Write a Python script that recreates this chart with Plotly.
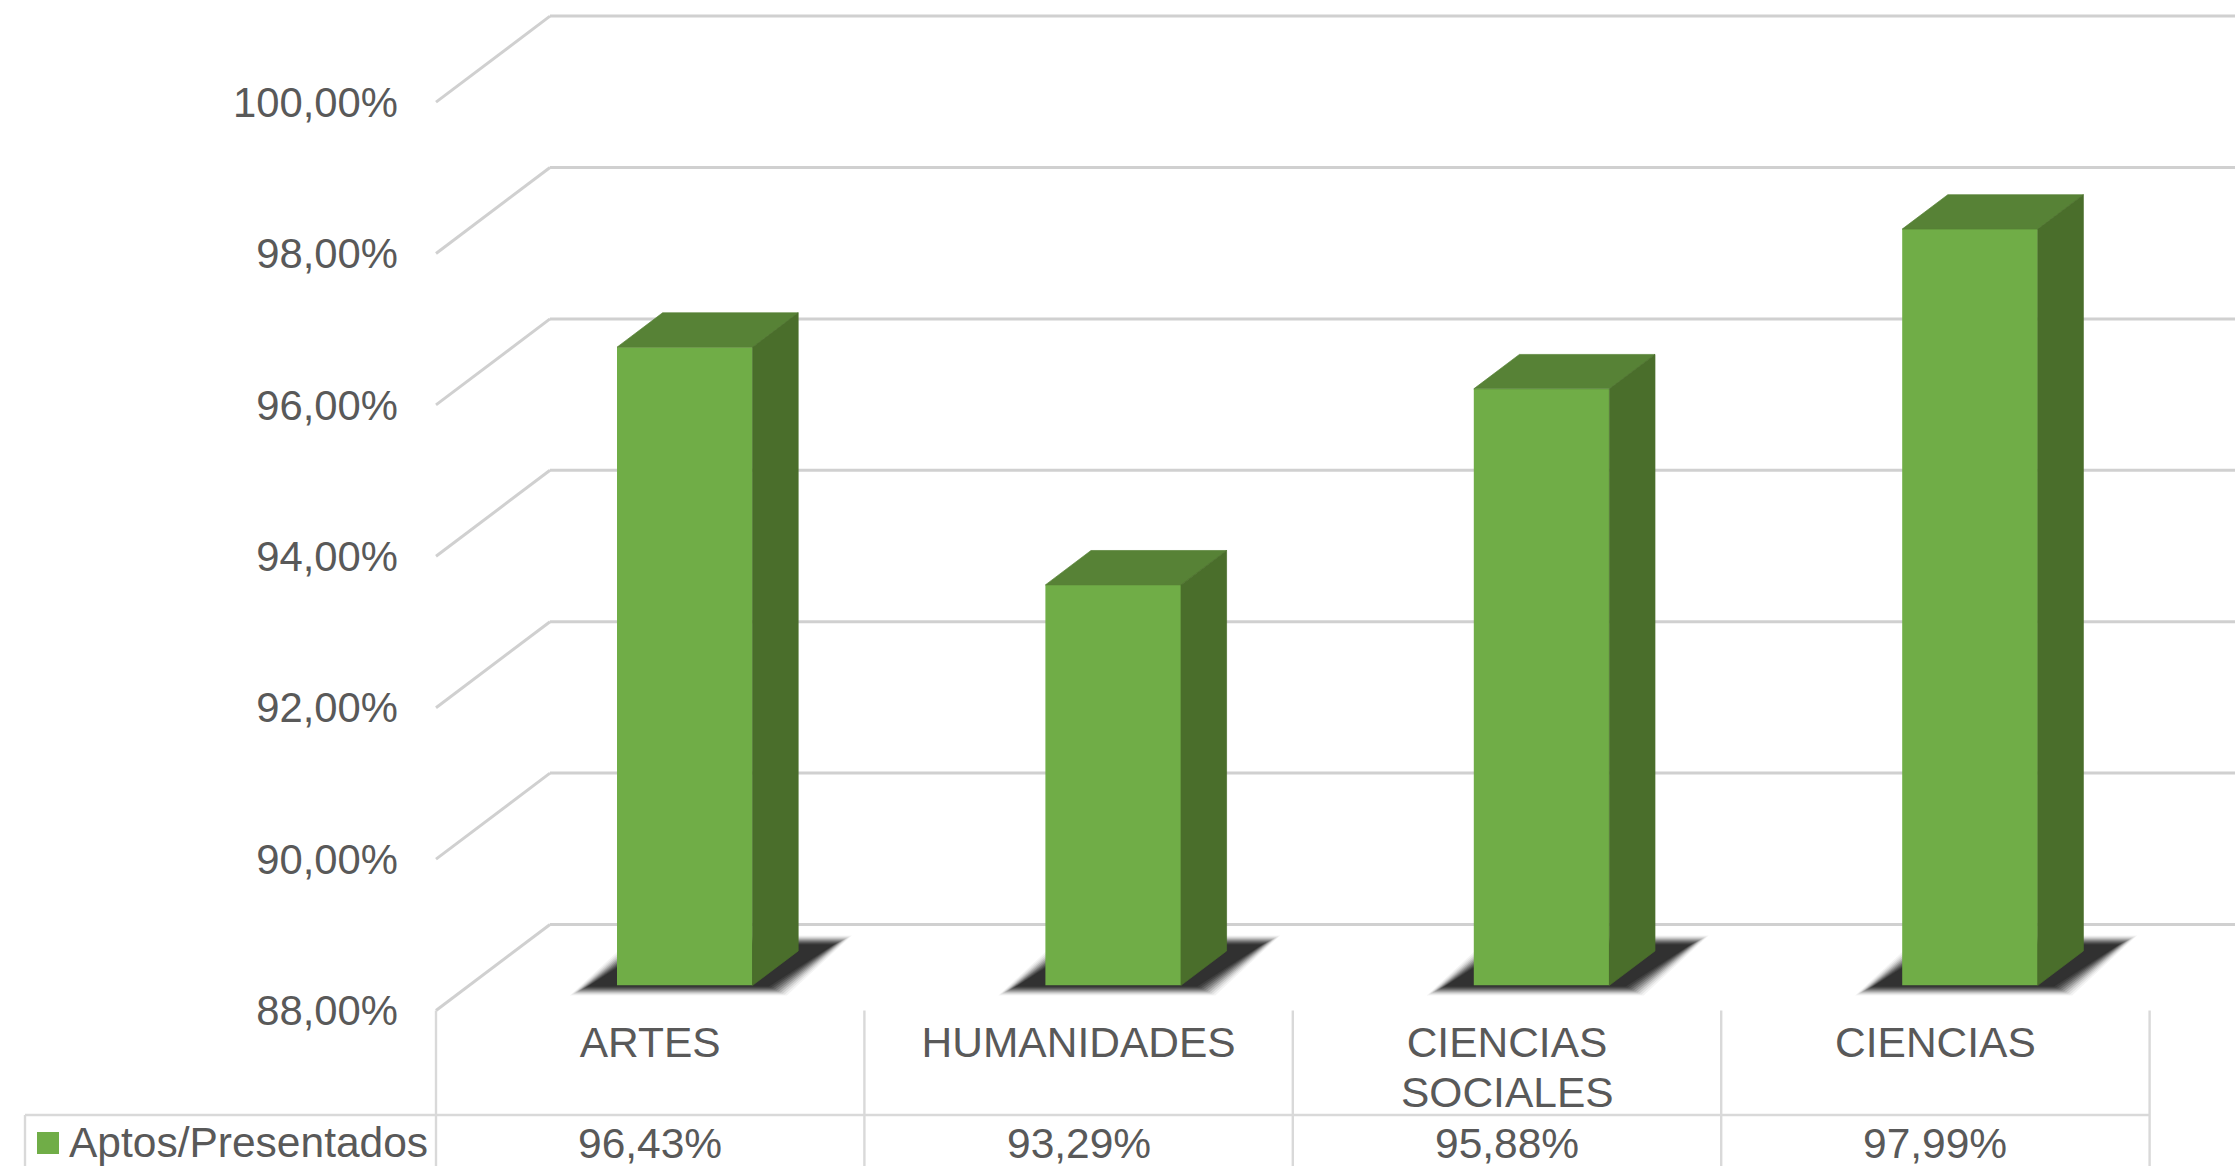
import plotly.graph_objects as go

# ---- data ----
categories = ["ARTES", "HUMANIDADES", "CIENCIAS", "CIENCIAS"]
category_second_line = ["", "", "SOCIALES", ""]
category_first_line = ["ARTES", "HUMANIDADES", "CIENCIAS", "CIENCIAS"]
series_name = "Aptos/Presentados"
values = [96.43, 93.29, 95.88, 97.99]
y_ticks = [88, 90, 92, 94, 96, 98, 100]

# ---- style / scale constants ----
W, H = 2235, 1166
PX_X0, PX_CELL = 436.0, 428.4      # pixel of first category edge, category width
PX_Y88, PX_UNIT = 1010.5, 75.7     # pixel of 88 %, pixels per percentage point
GRID = "#d0d0d0"
TABLE = "#d9d9d9"
TEXT = "#595959"
FRONT, TOP, SIDE = "#70AD47", "#578236", "#4A6E2B"
FONT = "Liberation Sans"
FS = 42.5


def X(px):
    return (px - PX_X0) / PX_CELL


def Y(py):
    return 88 + (PX_Y88 - py) / PX_UNIT


DEPTH_X = 114.0 / PX_CELL          # wall depth in x units
DEPTH_Y = 86.0 / PX_UNIT           # wall depth in y units
F_FRONT, F_BACK = 0.2925, 0.6925   # depth fractions of the bar
BAR_L, BAR_W = 0.4225, 0.3165


def pct(v):
    return f"{v:.2f}".replace(".", ",") + "%"


x_range = [X(0), X(W)]
y_range = [Y(H), Y(0)]
base_y = 88 + F_FRONT * DEPTH_Y
sx = (F_BACK - F_FRONT) * DEPTH_X
sy = (F_BACK - F_FRONT) * DEPTH_Y

shapes = []


def line(x0, y0, x1, y1, color, width):
    shapes.append(dict(type="line", xref="x", yref="y", x0=x0, y0=y0, x1=x1, y1=y1,
                       line=dict(color=color, width=width), layer="below"))


# walls: gridlines run from the front axis back, then across the back wall
for t in y_ticks:
    line(0, t, DEPTH_X, t + DEPTH_Y, GRID, 3)
    line(DEPTH_X, t + DEPTH_Y, x_range[1], t + DEPTH_Y, GRID, 3)

# data-table rules
table_top = Y(1115)
for i in range(len(values) + 1):
    line(i, 88, i, y_range[0], TABLE, 2.4)
line(X(25), table_top, len(values), table_top, TABLE, 2.4)
line(X(25), table_top, X(25), y_range[0], TABLE, 2.4)

# soft floor shadow, layered to imitate the blur
blur_layers = [(11, 0.05), (9, 0.07), (7, 0.10), (5, 0.14), (3, 0.18), (1, 0.22),
               (-1, 0.26), (-3, 0.30), (-5, 0.34), (-7, 0.38)]
for i in range(len(values)):
    f0, f1 = 0.238, 0.808
    for grow, alpha in blur_layers:
        g_x, g_y = grow / PX_CELL, 0.5 * grow / PX_UNIT
        xl = i + 0.275 - g_x
        xr = i + 0.730 + g_x
        y0 = 88 + f0 * DEPTH_Y - g_y
        y1 = 88 + f1 * DEPTH_Y + g_y
        pts = [(xl + f0 * DEPTH_X, y0), (xr + f0 * DEPTH_X, y0),
               (xr + f1 * DEPTH_X, y1), (xl + f1 * DEPTH_X, y1)]
        path = "M " + " L ".join(f"{a:.5f},{b:.5f}" for a, b in pts) + " Z"
        shapes.append(dict(type="path", xref="x", yref="y", path=path, layer="below",
                           fillcolor=f"rgba(30,30,30,{alpha})", line=dict(width=0)))

fig = go.Figure()

# front faces
centers = [i + BAR_L + BAR_W / 2 for i in range(len(values))]
fig.add_trace(go.Bar(x=centers, y=[v - 88 for v in values], base=base_y, width=BAR_W,
                     marker=dict(color=FRONT, line=dict(width=0)), name=series_name,
                     showlegend=False))

# top and side faces
top_x, top_y, side_x, side_y = [], [], [], []
for c, v in zip(centers, values):
    l, r = c - BAR_W / 2, c + BAR_W / 2
    t = v + F_FRONT * DEPTH_Y
    top_x += [l, r, r + sx, l + sx, l, None]
    top_y += [t, t, t + sy, t + sy, t, None]
    side_x += [r, r + sx, r + sx, r, r, None]
    side_y += [t, t + sy, base_y + sy, base_y, t, None]
for xs, ys, col in ((top_x, top_y, TOP), (side_x, side_y, SIDE)):
    fig.add_trace(go.Scatter(x=xs, y=ys, fill="toself", fillcolor=col, mode="lines",
                             line=dict(width=0.7, color=col), hoverinfo="skip", showlegend=False))

# legend key in the data table
fig.add_trace(go.Scatter(x=[X(48)], y=[Y(1143)], mode="markers", showlegend=False,
                         marker=dict(symbol="square", size=22, color=FRONT, line=dict(width=0))))

annotations = []
font = dict(family=FONT, size=FS, color=TEXT)
annotations.append(dict(x=X(67), y=Y(1142), xref="x", yref="y", text=series_name, showarrow=False,
                        xanchor="left", yanchor="middle", font=font))
for i, (v, second) in enumerate(zip(values, category_second_line)):
    annotations.append(dict(x=i + 0.5, y=Y(1143), xref="x", yref="y", text=pct(v), showarrow=False,
                            xanchor="center", yanchor="middle", font=font))
    if second:
        annotations.append(dict(x=i + 0.5, y=Y(1092), xref="x", yref="y", text=second, showarrow=False,
                                xanchor="center", yanchor="middle", font=font))

fig.update_layout(
    width=W, height=H,
    margin=dict(l=0, r=0, t=0, b=0),
    paper_bgcolor="white", plot_bgcolor="white",
    showlegend=False,
    shapes=shapes,
    annotations=annotations,
    xaxis=dict(range=x_range, domain=[0, 1], anchor="free", position=(H - PX_Y88) / H,
               tickmode="array", tickvals=[i + 0.5 for i in range(len(values))],
               ticktext=category_first_line, tickfont=font, ticks="", ticklabelstandoff=3,
               showgrid=False, zeroline=False, showline=False, tickangle=0, side="bottom"),
    yaxis=dict(range=y_range, domain=[0, 1], anchor="free", position=PX_X0 / W,
               tickmode="array", tickvals=y_ticks, ticktext=[pct(t) for t in y_ticks],
               tickfont=dict(family=FONT, size=41.8, color=TEXT), ticks="", ticklabelstandoff=38,
               showgrid=False, zeroline=False, showline=False, side="left"),
)

fig.write_html("out.html", config=dict(displayModeBar=False),
               post_script="document.body.style.margin='0';document.body.style.overflow='hidden';")
